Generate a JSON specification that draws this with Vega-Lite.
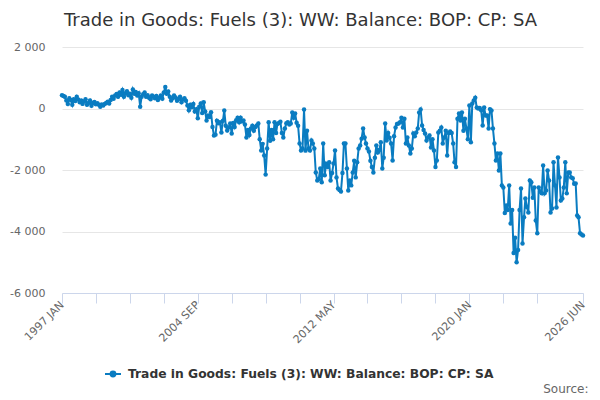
{
  "$schema": "https://vega.github.io/schema/vega-lite/v6.json",
  "width": 521,
  "height": 246,
  "autosize": {"type": "none"},
  "padding": {"left": 62, "top": 47, "right": 17, "bottom": 107},
  "background": "white",
  "config": {"font": "DejaVu Sans", "view": {"stroke": null}},
  "title": {
    "text": "Trade in Goods: Fuels (3): WW: Balance: BOP: CP: SA",
    "anchor": "middle",
    "frame": "group",
    "dx": -22,
    "fontSize": 18,
    "fontWeight": "normal",
    "color": "#333333",
    "baseline": "alphabetic",
    "offset": -3
  },
  "data": {
    "values": [
      {"month": "1997-01-01", "value": 430}, {"month": "1997-02-01", "value": 410}, {"month": "1997-03-01", "value": 380}, {"month": "1997-04-01", "value": 260},
      {"month": "1997-05-01", "value": 150}, {"month": "1997-06-01", "value": 330}, {"month": "1997-07-01", "value": 280}, {"month": "1997-08-01", "value": 120},
      {"month": "1997-09-01", "value": 300}, {"month": "1997-10-01", "value": 240}, {"month": "1997-11-01", "value": 380}, {"month": "1997-12-01", "value": 290},
      {"month": "1998-01-01", "value": 200}, {"month": "1998-02-01", "value": 260}, {"month": "1998-03-01", "value": 150}, {"month": "1998-04-01", "value": 230},
      {"month": "1998-05-01", "value": 300}, {"month": "1998-06-01", "value": 120}, {"month": "1998-07-01", "value": 180}, {"month": "1998-08-01", "value": 260},
      {"month": "1998-09-01", "value": 90}, {"month": "1998-10-01", "value": 180}, {"month": "1998-11-01", "value": 210}, {"month": "1998-12-01", "value": 140},
      {"month": "1999-01-01", "value": 170}, {"month": "1999-02-01", "value": 120}, {"month": "1999-03-01", "value": 60}, {"month": "1999-04-01", "value": 130},
      {"month": "1999-05-01", "value": 100}, {"month": "1999-06-01", "value": 150}, {"month": "1999-07-01", "value": 180}, {"month": "1999-08-01", "value": 220},
      {"month": "1999-09-01", "value": 160}, {"month": "1999-10-01", "value": 280}, {"month": "1999-11-01", "value": 380}, {"month": "1999-12-01", "value": 320},
      {"month": "2000-01-01", "value": 420}, {"month": "2000-02-01", "value": 470}, {"month": "2000-03-01", "value": 380}, {"month": "2000-04-01", "value": 520},
      {"month": "2000-05-01", "value": 450}, {"month": "2000-06-01", "value": 600}, {"month": "2000-07-01", "value": 380}, {"month": "2000-08-01", "value": 500},
      {"month": "2000-09-01", "value": 560}, {"month": "2000-10-01", "value": 430}, {"month": "2000-11-01", "value": 480}, {"month": "2000-12-01", "value": 350},
      {"month": "2001-01-01", "value": 620}, {"month": "2001-02-01", "value": 480}, {"month": "2001-03-01", "value": 540}, {"month": "2001-04-01", "value": 420},
      {"month": "2001-05-01", "value": 500}, {"month": "2001-06-01", "value": 60}, {"month": "2001-07-01", "value": 380}, {"month": "2001-08-01", "value": 460},
      {"month": "2001-09-01", "value": 520}, {"month": "2001-10-01", "value": 380}, {"month": "2001-11-01", "value": 430}, {"month": "2001-12-01", "value": 350},
      {"month": "2002-01-01", "value": 300}, {"month": "2002-02-01", "value": 420}, {"month": "2002-03-01", "value": 380}, {"month": "2002-04-01", "value": 330},
      {"month": "2002-05-01", "value": 410}, {"month": "2002-06-01", "value": 280}, {"month": "2002-07-01", "value": 350}, {"month": "2002-08-01", "value": 420},
      {"month": "2002-09-01", "value": 320}, {"month": "2002-10-01", "value": 520}, {"month": "2002-11-01", "value": 700}, {"month": "2002-12-01", "value": 480},
      {"month": "2003-01-01", "value": 550}, {"month": "2003-02-01", "value": 380}, {"month": "2003-03-01", "value": 260}, {"month": "2003-04-01", "value": 330},
      {"month": "2003-05-01", "value": 420}, {"month": "2003-06-01", "value": 360}, {"month": "2003-07-01", "value": 250}, {"month": "2003-08-01", "value": 310},
      {"month": "2003-09-01", "value": 380}, {"month": "2003-10-01", "value": 200}, {"month": "2003-11-01", "value": 290}, {"month": "2003-12-01", "value": 330},
      {"month": "2004-01-01", "value": 250}, {"month": "2004-02-01", "value": 100}, {"month": "2004-03-01", "value": -60}, {"month": "2004-04-01", "value": 120},
      {"month": "2004-05-01", "value": 40}, {"month": "2004-06-01", "value": 150}, {"month": "2004-07-01", "value": -100}, {"month": "2004-08-01", "value": -20},
      {"month": "2004-09-01", "value": -320}, {"month": "2004-10-01", "value": 60}, {"month": "2004-11-01", "value": 160}, {"month": "2004-12-01", "value": -150},
      {"month": "2005-01-01", "value": 200}, {"month": "2005-02-01", "value": -100}, {"month": "2005-03-01", "value": -390}, {"month": "2005-04-01", "value": -230},
      {"month": "2005-05-01", "value": -280}, {"month": "2005-06-01", "value": -120}, {"month": "2005-07-01", "value": -600}, {"month": "2005-08-01", "value": -880},
      {"month": "2005-09-01", "value": -850}, {"month": "2005-10-01", "value": -400}, {"month": "2005-11-01", "value": -480}, {"month": "2005-12-01", "value": -450},
      {"month": "2006-01-01", "value": -780}, {"month": "2006-02-01", "value": -400}, {"month": "2006-03-01", "value": -65}, {"month": "2006-04-01", "value": -560},
      {"month": "2006-05-01", "value": -715}, {"month": "2006-06-01", "value": -620}, {"month": "2006-07-01", "value": -490}, {"month": "2006-08-01", "value": -810},
      {"month": "2006-09-01", "value": -470}, {"month": "2006-10-01", "value": -600}, {"month": "2006-11-01", "value": -380}, {"month": "2006-12-01", "value": -300},
      {"month": "2007-01-01", "value": -450}, {"month": "2007-02-01", "value": -300}, {"month": "2007-03-01", "value": -420}, {"month": "2007-04-01", "value": -390},
      {"month": "2007-05-01", "value": -520}, {"month": "2007-06-01", "value": -940}, {"month": "2007-07-01", "value": -700}, {"month": "2007-08-01", "value": -860},
      {"month": "2007-09-01", "value": -650}, {"month": "2007-10-01", "value": -560}, {"month": "2007-11-01", "value": -720}, {"month": "2007-12-01", "value": -600},
      {"month": "2008-01-01", "value": -550}, {"month": "2008-02-01", "value": -490}, {"month": "2008-03-01", "value": -1000}, {"month": "2008-04-01", "value": -1365},
      {"month": "2008-05-01", "value": -1150}, {"month": "2008-06-01", "value": -1530}, {"month": "2008-07-01", "value": -2150}, {"month": "2008-08-01", "value": -1300},
      {"month": "2008-09-01", "value": -450}, {"month": "2008-10-01", "value": -1050}, {"month": "2008-11-01", "value": -700}, {"month": "2008-12-01", "value": -1000},
      {"month": "2009-01-01", "value": -450}, {"month": "2009-02-01", "value": -800}, {"month": "2009-03-01", "value": -500}, {"month": "2009-04-01", "value": -470},
      {"month": "2009-05-01", "value": -430}, {"month": "2009-06-01", "value": -800}, {"month": "2009-07-01", "value": -940}, {"month": "2009-08-01", "value": -650},
      {"month": "2009-09-01", "value": -480}, {"month": "2009-10-01", "value": -450}, {"month": "2009-11-01", "value": -520}, {"month": "2009-12-01", "value": -490},
      {"month": "2010-01-01", "value": -130}, {"month": "2010-02-01", "value": -300}, {"month": "2010-03-01", "value": -160}, {"month": "2010-04-01", "value": -460},
      {"month": "2010-05-01", "value": -560}, {"month": "2010-06-01", "value": -1140}, {"month": "2010-07-01", "value": -1365}, {"month": "2010-08-01", "value": -1300},
      {"month": "2010-09-01", "value": -30}, {"month": "2010-10-01", "value": -1370}, {"month": "2010-11-01", "value": -720}, {"month": "2010-12-01", "value": -1300},
      {"month": "2011-01-01", "value": -1365}, {"month": "2011-02-01", "value": -1040}, {"month": "2011-03-01", "value": -1140}, {"month": "2011-04-01", "value": -1300},
      {"month": "2011-05-01", "value": -2080}, {"month": "2011-06-01", "value": -2340}, {"month": "2011-07-01", "value": -2300}, {"month": "2011-08-01", "value": -1950},
      {"month": "2011-09-01", "value": -2400}, {"month": "2011-10-01", "value": -1140}, {"month": "2011-11-01", "value": -2170}, {"month": "2011-12-01", "value": -1800},
      {"month": "2012-01-01", "value": -1900}, {"month": "2012-02-01", "value": -1750}, {"month": "2012-03-01", "value": -2340}, {"month": "2012-04-01", "value": -2100},
      {"month": "2012-05-01", "value": -1790}, {"month": "2012-06-01", "value": -1365}, {"month": "2012-07-01", "value": -2240}, {"month": "2012-08-01", "value": -2600},
      {"month": "2012-09-01", "value": -2650}, {"month": "2012-10-01", "value": -2700}, {"month": "2012-11-01", "value": -2100}, {"month": "2012-12-01", "value": -1140},
      {"month": "2013-01-01", "value": -1140}, {"month": "2013-02-01", "value": -1950}, {"month": "2013-03-01", "value": -2665}, {"month": "2013-04-01", "value": -2340},
      {"month": "2013-05-01", "value": -2500}, {"month": "2013-06-01", "value": -2080}, {"month": "2013-07-01", "value": -1700}, {"month": "2013-08-01", "value": -2240},
      {"month": "2013-09-01", "value": -1750}, {"month": "2013-10-01", "value": -1300}, {"month": "2013-11-01", "value": -1200}, {"month": "2013-12-01", "value": -980},
      {"month": "2014-01-01", "value": -650}, {"month": "2014-02-01", "value": -940}, {"month": "2014-03-01", "value": -1140}, {"month": "2014-04-01", "value": -1300},
      {"month": "2014-05-01", "value": -1400}, {"month": "2014-06-01", "value": -1700}, {"month": "2014-07-01", "value": -1900}, {"month": "2014-08-01", "value": -2080},
      {"month": "2014-09-01", "value": -1600}, {"month": "2014-10-01", "value": -1200}, {"month": "2014-11-01", "value": -1430}, {"month": "2014-12-01", "value": -1350},
      {"month": "2015-01-01", "value": -1100}, {"month": "2015-02-01", "value": -1950}, {"month": "2015-03-01", "value": -1600}, {"month": "2015-04-01", "value": -490},
      {"month": "2015-05-01", "value": -1040}, {"month": "2015-06-01", "value": -800}, {"month": "2015-07-01", "value": -950}, {"month": "2015-08-01", "value": -1140},
      {"month": "2015-09-01", "value": -1690}, {"month": "2015-10-01", "value": -900}, {"month": "2015-11-01", "value": -620}, {"month": "2015-12-01", "value": -500},
      {"month": "2016-01-01", "value": -490}, {"month": "2016-02-01", "value": -450}, {"month": "2016-03-01", "value": -300}, {"month": "2016-04-01", "value": -620},
      {"month": "2016-05-01", "value": -330}, {"month": "2016-06-01", "value": -1140}, {"month": "2016-07-01", "value": -940}, {"month": "2016-08-01", "value": -1200},
      {"month": "2016-09-01", "value": -1460}, {"month": "2016-10-01", "value": -1300}, {"month": "2016-11-01", "value": -810}, {"month": "2016-12-01", "value": -900},
      {"month": "2017-01-01", "value": -780}, {"month": "2017-02-01", "value": -650}, {"month": "2017-03-01", "value": -130}, {"month": "2017-04-01", "value": -30},
      {"month": "2017-05-01", "value": -550}, {"month": "2017-06-01", "value": -700}, {"month": "2017-07-01", "value": -810}, {"month": "2017-08-01", "value": -1040},
      {"month": "2017-09-01", "value": -940}, {"month": "2017-10-01", "value": -880}, {"month": "2017-11-01", "value": -1270}, {"month": "2017-12-01", "value": -1000},
      {"month": "2018-01-01", "value": -1365}, {"month": "2018-02-01", "value": -1900}, {"month": "2018-03-01", "value": -1690}, {"month": "2018-04-01", "value": -780},
      {"month": "2018-05-01", "value": -720}, {"month": "2018-06-01", "value": -620}, {"month": "2018-07-01", "value": -1140}, {"month": "2018-08-01", "value": -940},
      {"month": "2018-09-01", "value": -720}, {"month": "2018-10-01", "value": -1530}, {"month": "2018-11-01", "value": -800}, {"month": "2018-12-01", "value": -750},
      {"month": "2019-01-01", "value": -800}, {"month": "2019-02-01", "value": -1140}, {"month": "2019-03-01", "value": -1750}, {"month": "2019-04-01", "value": -1900},
      {"month": "2019-05-01", "value": -330}, {"month": "2019-06-01", "value": -160}, {"month": "2019-07-01", "value": -390}, {"month": "2019-08-01", "value": -130},
      {"month": "2019-09-01", "value": -720}, {"month": "2019-10-01", "value": -330}, {"month": "2019-11-01", "value": -650}, {"month": "2019-12-01", "value": -1000},
      {"month": "2020-01-01", "value": 100}, {"month": "2020-02-01", "value": -1100}, {"month": "2020-03-01", "value": 160}, {"month": "2020-04-01", "value": 260},
      {"month": "2020-05-01", "value": 350}, {"month": "2020-06-01", "value": 30}, {"month": "2020-07-01", "value": 0}, {"month": "2020-08-01", "value": 20},
      {"month": "2020-09-01", "value": -60}, {"month": "2020-10-01", "value": -550}, {"month": "2020-11-01", "value": 30}, {"month": "2020-12-01", "value": -230},
      {"month": "2021-01-01", "value": -230}, {"month": "2021-02-01", "value": -650}, {"month": "2021-03-01", "value": -20}, {"month": "2021-04-01", "value": -65},
      {"month": "2021-05-01", "value": -650}, {"month": "2021-06-01", "value": -1140}, {"month": "2021-07-01", "value": -1690}, {"month": "2021-08-01", "value": -1460},
      {"month": "2021-09-01", "value": -2015}, {"month": "2021-10-01", "value": -1460}, {"month": "2021-11-01", "value": -2500}, {"month": "2021-12-01", "value": -2570},
      {"month": "2022-01-01", "value": -3400}, {"month": "2022-02-01", "value": -3150}, {"month": "2022-03-01", "value": -3300}, {"month": "2022-04-01", "value": -2500},
      {"month": "2022-05-01", "value": -3740}, {"month": "2022-06-01", "value": -3300}, {"month": "2022-07-01", "value": -4700}, {"month": "2022-08-01", "value": -4200},
      {"month": "2022-09-01", "value": -5000}, {"month": "2022-10-01", "value": -4600}, {"month": "2022-11-01", "value": -3300}, {"month": "2022-12-01", "value": -2600},
      {"month": "2023-01-01", "value": -4390}, {"month": "2023-02-01", "value": -3540}, {"month": "2023-03-01", "value": -2925}, {"month": "2023-04-01", "value": -3200},
      {"month": "2023-05-01", "value": -3380}, {"month": "2023-06-01", "value": -2340}, {"month": "2023-07-01", "value": -2400}, {"month": "2023-08-01", "value": -2900},
      {"month": "2023-09-01", "value": -2570}, {"month": "2023-10-01", "value": -3640}, {"month": "2023-11-01", "value": -4060}, {"month": "2023-12-01", "value": -2570},
      {"month": "2024-01-01", "value": -2700}, {"month": "2024-02-01", "value": -2760}, {"month": "2024-03-01", "value": -1850}, {"month": "2024-04-01", "value": -2760},
      {"month": "2024-05-01", "value": -2665}, {"month": "2024-06-01", "value": -2015}, {"month": "2024-07-01", "value": -2340}, {"month": "2024-08-01", "value": -3380},
      {"month": "2024-09-01", "value": -3250}, {"month": "2024-10-01", "value": -1750}, {"month": "2024-11-01", "value": -2500}, {"month": "2024-12-01", "value": -3220},
      {"month": "2025-01-01", "value": -1590}, {"month": "2025-02-01", "value": -2240}, {"month": "2025-03-01", "value": -2990}, {"month": "2025-04-01", "value": -2925},
      {"month": "2025-05-01", "value": -2570}, {"month": "2025-06-01", "value": -1750}, {"month": "2025-07-01", "value": -2760}, {"month": "2025-08-01", "value": -2080},
      {"month": "2025-09-01", "value": -2080}, {"month": "2025-10-01", "value": -2240}, {"month": "2025-11-01", "value": -2270}, {"month": "2025-12-01", "value": -2450},
      {"month": "2026-01-01", "value": -2440}, {"month": "2026-02-01", "value": -3480}, {"month": "2026-03-01", "value": -3540}, {"month": "2026-04-01", "value": -4060},
      {"month": "2026-05-01", "value": -4100}, {"month": "2026-06-01", "value": -4130}
    ]
  },
  "mark": {"type": "line", "strokeWidth": 2, "point": {"filled": true, "size": 20}},
  "encoding": {
    "x": {
      "field": "month",
      "type": "temporal",
      "scale": {
        "type": "utc",
        "nice": false,
        "domain": [
          {"year": 1997, "month": 1, "date": 1, "utc": true},
          {"year": 2026, "month": 6, "date": 1, "utc": true}
        ]
      },
      "axis": {
        "title": "Source:",
        "titleX": 526,
        "titleY": 99,
        "titleAlign": "right",
        "titleBaseline": "alphabetic",
        "titleFontSize": 12,
        "titleFontWeight": "normal",
        "titleColor": "#666666",
        "values": [
          {"year": 1997, "month": 1, "date": 1, "utc": true},
          {"year": 1998, "month": 12, "date": 1, "utc": true},
          {"year": 2000, "month": 11, "date": 1, "utc": true},
          {"year": 2002, "month": 10, "date": 1, "utc": true},
          {"year": 2004, "month": 9, "date": 1, "utc": true},
          {"year": 2006, "month": 8, "date": 1, "utc": true},
          {"year": 2008, "month": 7, "date": 1, "utc": true},
          {"year": 2010, "month": 6, "date": 1, "utc": true},
          {"year": 2012, "month": 5, "date": 1, "utc": true},
          {"year": 2014, "month": 4, "date": 1, "utc": true},
          {"year": 2016, "month": 3, "date": 1, "utc": true},
          {"year": 2018, "month": 2, "date": 1, "utc": true},
          {"year": 2020, "month": 1, "date": 1, "utc": true},
          {"year": 2021, "month": 12, "date": 1, "utc": true},
          {"year": 2023, "month": 11, "date": 1, "utc": true},
          {"year": 2026, "month": 6, "date": 1, "utc": true}
        ],
        "labelExpr": "indexof(['1997-01','2004-09','2012-05','2020-01','2026-06'], utcFormat(datum.value, '%Y-%m')) >= 0 ? utcFormat(datum.value, '%Y ') + upper(utcFormat(datum.value, '%b')) : ''",
        "labelAngle": -45,
        "labelAlign": "right",
        "labelBaseline": "middle",
        "labelFontSize": 11,
        "labelColor": "#666666",
        "labelPadding": 0,
        "labelOverlap": false,
        "labelBound": false,
        "labelFlush": false,
        "tickColor": "#ccd6eb",
        "tickSize": 10,
        "domainColor": "#ccd6eb",
        "grid": false
      }
    },
    "y": {
      "field": "value",
      "type": "quantitative",
      "scale": {"domain": [-6000, 2000], "nice": false},
      "axis": {
        "title": null,
        "values": [-6000, -4000, -2000, 0, 2000],
        "labelExpr": "(datum.value < 0 ? '-' : '') + replace(format(abs(datum.value), ','), ',', ' ')",
        "domain": false,
        "ticks": false,
        "gridColor": "#e6e6e6",
        "labelFontSize": 11,
        "labelColor": "#666666",
        "labelPadding": 17
      }
    },
    "color": {
      "datum": "Trade in Goods: Fuels (3): WW: Balance: BOP: CP: SA",
      "scale": {"range": ["#0a7cc1"]},
      "legend": {
        "orient": "none",
        "legendX": 42,
        "legendY": 318,
        "title": null,
        "direction": "horizontal",
        "padding": 0,
        "symbolType": "M-1,0L1,0M0.3,0A0.3,0.3,0,1,1,-0.3,0A0.3,0.3,0,1,1,0.3,0Z",
        "symbolSize": 256,
        "symbolStrokeWidth": 2,
        "symbolFillColor": "#0a7cc1",
        "symbolStrokeColor": "#0a7cc1",
        "labelFontSize": 12.3,
        "labelFontWeight": "bold",
        "labelColor": "#333333",
        "labelLimit": 600,
        "labelOffset": 6
      }
    }
  }
}
